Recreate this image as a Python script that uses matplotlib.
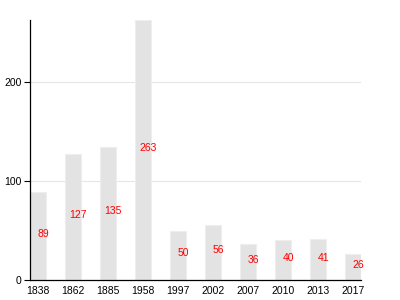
import matplotlib
matplotlib.use("Agg")
import matplotlib.pyplot as plt

years = ["1838", "1862", "1885", "1958", "1997", "2002", "2007", "2010", "2013", "2017"]
values = [89, 127, 135, 263, 50, 56, 36, 40, 41, 26]

plt.rcParams['font.family'] = ['Liberation Sans', 'DejaVu Sans']

fig = plt.figure(figsize=(4, 3), dpi=100)
ax = fig.add_axes([0.075, 0.0667, 0.8275, 0.8663])

x = list(range(len(years)))
ax.bar(x, values, width=0.46, color="#e3e3e3", edgecolor="#eeeeee", linewidth=0.8, zorder=2)

# value labels sit halfway up each bar
for xi, v in zip(x, values):
    ax.text(xi + 0.15, v / 2 + 2, str(v), color="red", fontsize=7.5, ha="center", va="center", zorder=3)

ax.set_xlim(-0.23, 9.23)
ax.set_ylim(0, 263)
ax.set_yticks([0, 100, 200])
ax.set_xticks(x)
ax.set_xticklabels(years)
ax.yaxis.grid(True, color="#e6e6e6", linewidth=0.8, zorder=0)
ax.set_axisbelow(True)

for s in ["top", "right"]:
    ax.spines[s].set_visible(False)
ax.spines["left"].set_linewidth(0.9)
ax.spines["bottom"].set_linewidth(0.9)
ax.tick_params(axis="x", length=0, labelsize=7.5, pad=4)
ax.tick_params(axis="y", length=4, width=0.8, labelsize=7.5, pad=2)

fig.savefig("out.png", dpi=100)
